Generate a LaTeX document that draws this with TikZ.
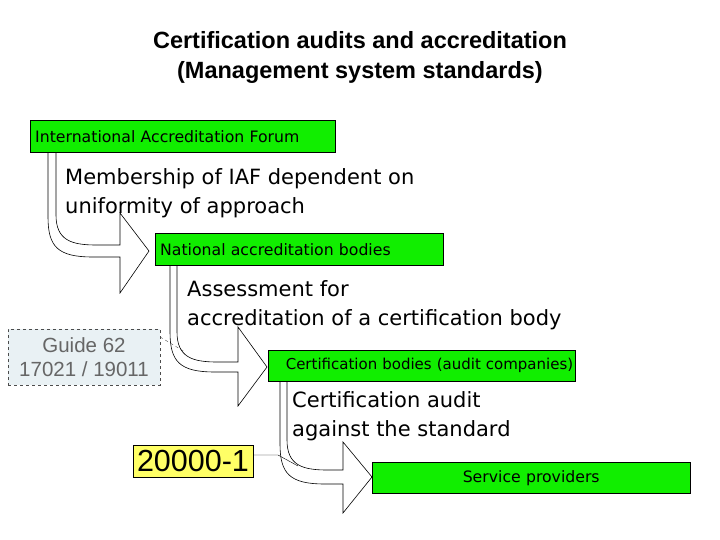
\documentclass[tikz,border=0pt]{standalone}
\usepackage{fontspec}
\setmainfont{DejaVu Sans}
\newfontfamily\arialf{Liberation Sans}
\definecolor{boxgreen}{HTML}{11EE00}
\definecolor{guidefill}{HTML}{E9F1F4}
\definecolor{ylw}{HTML}{FFFF66}
\tikzset{
 gbox/.style={draw=black,fill=boxgreen,anchor=north west,inner sep=0pt,align=left},
 lbl/.style={anchor=north west,align=left,inner sep=0pt,font=\fontsize{21}{29}\selectfont},
 barrow/.style={draw=black,fill=white,line width=0.6pt}
}
% #1 x outer, #2 x inner, #3 ytop, #4 yh1, #5 yh2, #6 x head base, #7 head top, #8 head bottom, #9 tip x
\newcommand{\bentarrow}[9]{%
 \path[barrow] (#2,#3) -- (#2,#4-30) .. controls (#2,#4-5) and (#2+15,#4) .. (#2+40,#4) -- (#6,#4) -- (#6,#7)
 -- (#9,{(#4+#5)/2}) -- (#6,#8) -- (#6,#5) -- (#1+45,#5) .. controls (#1+10,#5) and (#1,#5-10) .. (#1,#5-40) -- (#1,#3);}
\begin{document}
\begin{tikzpicture}[x=1pt,y=-1pt]
\useasboundingbox (0,0) rectangle (720,540);
\node[font=\arialf\bfseries\fontsize{23.5}{30}\selectfont,align=center] (title) at (360,57) {Certification audits and accreditation\\(Management system standards)};
\bentarrow{48}{56}{152}{245}{257}{120}{213}{293}{149}
\bentarrow{170}{177}{265}{362}{372}{238}{327}{406}{267}
\bentarrow{280}{287}{381}{470}{484}{343}{442}{513}{372}
\node[gbox,minimum width=305pt,minimum height=32pt,font=\fontsize{15.7}{16}\selectfont,inner xsep=5pt,text width=295pt] (iaf) at (30,120) {International Accreditation Forum};
\node[gbox,minimum width=288pt,minimum height=32pt,font=\fontsize{15.7}{16}\selectfont,inner xsep=5pt,text width=278pt] (nab) at (155,233) {National accreditation bodies};
\node[gbox,minimum width=307pt,minimum height=31pt,font=\fontsize{15}{16}\selectfont,inner xsep=2pt,text width=303pt,align=right] (cb) at (268,350) {Certification bodies (audit companies)};
\node[gbox,minimum width=318pt,minimum height=31pt,font=\fontsize{15.7}{16}\selectfont,align=center,text width=290pt] (sp) at (372,462) {Service providers};
\node[lbl] (l1) at (65,168) {Membership of IAF dependent on\\uniformity of approach};
\node[lbl] (l2) at (187,280) {Assessment for\\accreditation of a certification body};
\node[lbl] (l3) at (292,391) {Certification audit\\against the standard};
\node[draw=black!70,dashed,fill=guidefill,minimum width=152pt,minimum height=56pt,align=center,text=black!60,font=\arialf\fontsize{20.5}{24}\selectfont,inner sep=0pt] (guide) at (84,357) {Guide 62\\17021 / 19011};
\node[draw=black,fill=ylw,minimum width=120pt,minimum height=32pt,inner sep=0pt,font=\arialf\fontsize{30.5}{30}\selectfont] (iso) at (193,461) {20000-1};
\coordinate (gc) at (185,352);
\coordinate (ic1) at (278,455);
\coordinate (ic2) at (298,466);
\draw[black!70,dashed] (guide.east |- 0,337) -- (gc);
\draw (iso.east |- 0,455) -- (ic1) -- (ic2);
\end{tikzpicture}
\end{document}
